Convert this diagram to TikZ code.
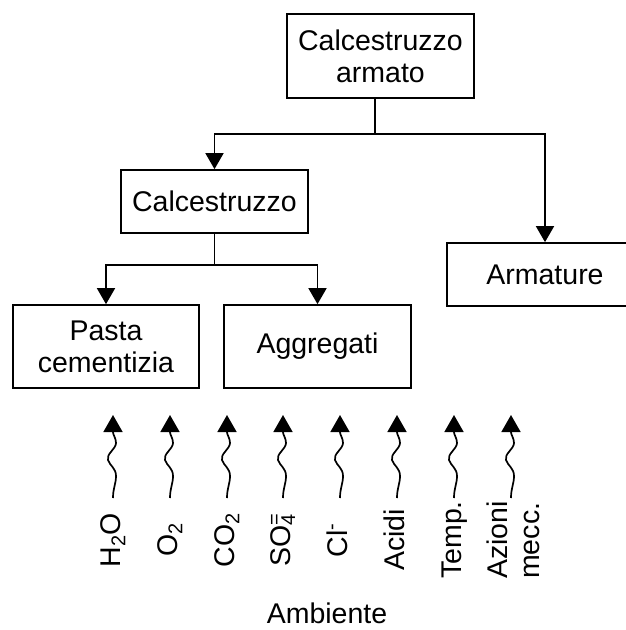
\documentclass[tikz,border=0pt]{standalone}
\usepackage{fontspec}
\setmainfont{Liberation Sans}
\usetikzlibrary{arrows.meta}
\newcommand\wavyup[2]{\draw[wav] (#1) .. controls +(0,-10) and +(0,8) .. ++(3,-22) .. controls +(0,-8) and +(2,6) .. ++(-8,-16) .. controls +(-2,-6) and +(0,6) .. ++(8,-17) .. controls +(0,-5) and +(0,3) .. ++(-3,-11) -- (#2);}
\begin{document}
\begin{tikzpicture}[x=1pt,y=-1pt,
  font=\fontsize{28.5}{32}\selectfont,
  box/.style={draw, line width=1.7pt, inner sep=0pt, align=center},
  conn/.style={line width=1.7pt},
  arr/.style={conn, -{Triangle[length=16pt,width=18pt]}},
  wav/.style={line width=1.7pt, -{Triangle[length=17pt,width=19pt]}},
  lbl/.style={rotate=90, anchor=base, inner sep=0pt},
  lbltwo/.style={rotate=90, anchor=center, inner sep=0pt, align=left}]
\useasboundingbox (0,0) rectangle (625,630);
% boxes
\node[box, minimum width=187pt, minimum height=84pt] (top) at (380.5,56) {Calcestruzzo\\armato};
\node[box, minimum width=187pt, minimum height=63pt] (calc) at (214.5,201.5) {Calcestruzzo};
\node[box, minimum width=186pt, minimum height=83pt] (pasta) at (106,346.5) {Pasta\\cementizia};
\node[box, minimum width=187pt, minimum height=83pt] (aggr) at (317.5,346.5) {Aggregati};
\node[box, minimum width=196pt, minimum height=63pt] (arm) at (545,274.5) {Armature};
% connectors
\coordinate (j1) at (375,134);
\coordinate (j2) at (214.5,265);
\draw[conn] (top.south -| j1) -- (j1);
\draw[arr] (j1) -| (calc.north);
\draw[arr] (j1) -| (arm.north);
\draw[conn] (calc.south) -- (j2);
\draw[arr] (j2) -| (pasta.north);
\draw[arr] (j2) -| (aggr.north);
% wavy arrows
\foreach \i/\x in {1/113,2/170,3/227,4/283,5/340,6/397,7/454,8/511}{
  \coordinate (s\i) at (\x,498);
  \coordinate (t\i) at (\x,415);
  \wavyup{s\i}{t\i}
}
% labels
\node[lbl] (l1) at (120,540) {H\textsubscript{2}O};
\node[lbl] (l2) at (177,540) {O\textsubscript{2}};
\node[lbl] (l3) at (234,540) {CO\textsubscript{2}};
\node[lbl] (l4) at (290,540) {SO\rlap{\textsuperscript{=}}\textsubscript{4}};
\node[lbl] (l5) at (347,540) {Cl\textsuperscript{-}};
\node[lbl] (l6) at (404,540) {Acidi};
\node[lbl] (l7) at (461,540) {Temp.};
\node[lbltwo] (l8) at (513.5,540) {Azioni\\mecc.};
\node[anchor=base, inner sep=0pt] (amb) at (327,623) {Ambiente};
\end{tikzpicture}
\end{document}
